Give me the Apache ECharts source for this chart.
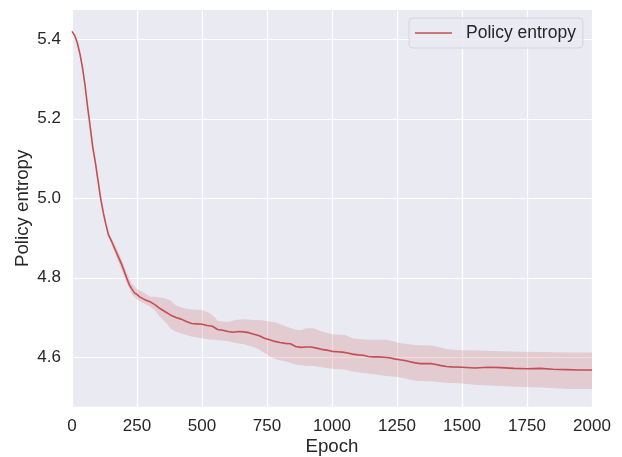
<!DOCTYPE html>
<html>
<head>
<meta charset="utf-8">
<script src="https://cdn.jsdelivr.net/npm/echarts@6/dist/echarts.min.js"></script>
<style>
  html, body { margin: 0; padding: 0; background: #ffffff; }
  #chart { width: 622px; height: 457px; }
</style>
</head>
<body>
<div id="chart"></div>
<script>
// Mean policy entropy per training epoch
const epochs = [0, 10, 20, 30, 40, 50, 60, 70, 80, 90, 100, 110, 120, 130, 140, 150, 160, 170, 180, 190,
  200, 210, 220, 230, 240, 250, 260, 280, 300, 320, 340, 360, 380, 400, 420, 440, 460, 480, 500, 520,
  540, 560, 580, 600, 620, 640, 660, 680, 700, 720, 740, 760, 780, 800, 820, 840, 860, 880, 900, 920,
  940, 960, 980, 1000, 1020, 1040, 1060, 1080, 1100, 1120, 1140, 1160, 1180, 1200, 1220, 1240, 1260, 1280, 1300, 1320,
  1340, 1360, 1380, 1400, 1420, 1440, 1460, 1500, 1550, 1600, 1650, 1700, 1750, 1800, 1850, 1900, 1950, 2000];
const entropyMean = [5.420, 5.410, 5.392, 5.365, 5.330, 5.285, 5.230, 5.180, 5.128, 5.090, 5.045, 5.000, 4.965, 4.935, 4.908, 4.895, 4.880, 4.865, 4.850, 4.835,
  4.818, 4.800, 4.783, 4.772, 4.762, 4.758, 4.752, 4.745, 4.740, 4.732, 4.722, 4.714, 4.706, 4.700, 4.696, 4.690, 4.685, 4.684, 4.683, 4.680,
  4.678, 4.670, 4.668, 4.665, 4.663, 4.665, 4.664, 4.662, 4.658, 4.654, 4.648, 4.644, 4.640, 4.637, 4.635, 4.634, 4.627, 4.625, 4.626, 4.626,
  4.623, 4.620, 4.618, 4.615, 4.614, 4.613, 4.611, 4.608, 4.606, 4.605, 4.602, 4.601, 4.601, 4.600, 4.599, 4.596, 4.594, 4.592, 4.589, 4.586,
  4.584, 4.584, 4.584, 4.582, 4.579, 4.577, 4.576, 4.575, 4.573, 4.575, 4.574, 4.572, 4.571, 4.572, 4.570, 4.569, 4.568, 4.568];

// Spread of the entropy across runs (lower / upper bound)
const bandEpochs = [0, 100, 130, 150, 170, 190, 210, 230, 250, 270, 300, 320, 340, 360, 380, 400, 420, 440, 460, 500,
  530, 550, 560, 600, 630, 660, 700, 730, 760, 790, 820, 860, 880, 900, 930, 960, 1000, 1050, 1080, 1130,
  1210, 1260, 1320, 1390, 1440, 1490, 1560, 1710, 1810, 1910, 2000];
const bandLower = [5.420, 5.043, 4.932, 4.888, 4.853, 4.822, 4.787, 4.760, 4.745, 4.738, 4.728, 4.718, 4.700, 4.688, 4.672, 4.664, 4.660, 4.656, 4.652, 4.648,
  4.645, 4.644, 4.643, 4.641, 4.636, 4.633, 4.626, 4.616, 4.602, 4.594, 4.590, 4.582, 4.580, 4.579, 4.578, 4.575, 4.571, 4.569, 4.564, 4.560,
  4.553, 4.550, 4.541, 4.539, 4.536, 4.535, 4.530, 4.526, 4.524, 4.520, 4.520];
const bandUpper = [5.420, 5.047, 4.938, 4.902, 4.877, 4.848, 4.813, 4.785, 4.772, 4.765, 4.752, 4.752, 4.750, 4.748, 4.742, 4.730, 4.726, 4.722, 4.720, 4.719,
  4.711, 4.700, 4.691, 4.689, 4.694, 4.696, 4.694, 4.693, 4.690, 4.686, 4.678, 4.669, 4.668, 4.673, 4.673, 4.665, 4.658, 4.656, 4.648, 4.644,
  4.644, 4.636, 4.631, 4.629, 4.621, 4.618, 4.617, 4.614, 4.613, 4.612, 4.612];

const xTicks = [0, 250, 500, 750, 1000, 1250, 1500, 1750, 2000];
const yTicks = [4.6, 4.8, 5.0, 5.2, 5.4];

const seriesName = 'Policy entropy';
const lineColor = '#C44E52';
const textColor = '#262626';
const fontFamily = '"Liberation Sans", Arial, sans-serif';

const linePoints = epochs.map((e, i) => [e, entropyMean[i]]);
const bandPoints = bandEpochs.map((e, i) => [e, bandLower[i], bandUpper[i]]);

const chart = echarts.init(document.getElementById('chart'), null, { renderer: 'canvas' });

chart.setOption({
  backgroundColor: '#ffffff',
  animation: false,
  textStyle: { fontFamily: fontFamily, color: textColor },
  grid: {
    left: 72, right: 30, top: 10, bottom: 50.3,
    outerBoundsMode: 'none',
    containLabel: false,
    show: true, backgroundColor: '#EAEAF2', borderWidth: 0
  },
  legend: {
    left: 409, top: 18,
    padding: [6, 7, 6, 6],
    backgroundColor: 'rgba(234,234,242,0.8)',
    borderColor: '#D4D4DA', borderWidth: 1, borderRadius: 4,
    itemWidth: 37, itemHeight: 1.6,
    textStyle: { fontSize: 17.5, color: textColor, fontFamily: fontFamily, padding: [0, 0, 0, 9], lineHeight: 18 },
    data: [{ name: seriesName, icon: 'rect' }]
  },
  xAxis: {
    type: 'value', min: 0, max: 2000, interval: 250,
    name: 'Epoch', nameLocation: 'middle', nameGap: 31, nameMoveOverlap: false,
    nameTextStyle: { fontSize: 18.7, color: textColor, fontFamily: fontFamily },
    axisLine: { show: false }, axisTick: { show: false },
    axisLabel: { fontSize: 17, color: textColor, margin: 11, customValues: xTicks,
      formatter: v => String(v) },
    splitLine: { show: true, lineStyle: { color: '#ffffff', width: 1.2 } }
  },
  yAxis: {
    type: 'value', min: 4.4757, max: 5.4737,
    name: 'Policy entropy', nameLocation: 'middle', nameGap: 40, nameMoveOverlap: false,
    nameTextStyle: { fontSize: 18.7, color: textColor, fontFamily: fontFamily },
    axisLine: { show: false },
    axisTick: { show: false, customValues: yTicks },
    axisLabel: { fontSize: 17, color: textColor, margin: 11, customValues: yTicks,
      formatter: v => v.toFixed(1) },
    splitLine: { show: true, lineStyle: { color: '#ffffff', width: 1.2 } }
  },
  series: [
    {
      type: 'custom',
      name: 'band',
      silent: true,
      z: 1,
      data: [0],
      renderItem: function (params, api) {
        const upper = bandPoints.map(p => api.coord([p[0], p[2]]));
        const lower = bandPoints.map(p => api.coord([p[0], p[1]])).reverse();
        return {
          type: 'polygon',
          shape: { points: upper.concat(lower) },
          style: { fill: lineColor, opacity: 0.2, stroke: null }
        };
      }
    },
    {
      type: 'line',
      name: seriesName,
      z: 3,
      data: linePoints,
      symbol: 'none',
      showSymbol: false,
      lineStyle: { color: lineColor, width: 1.6 },
      itemStyle: { color: lineColor }
    }
  ]
});
</script>
</body>
</html>
